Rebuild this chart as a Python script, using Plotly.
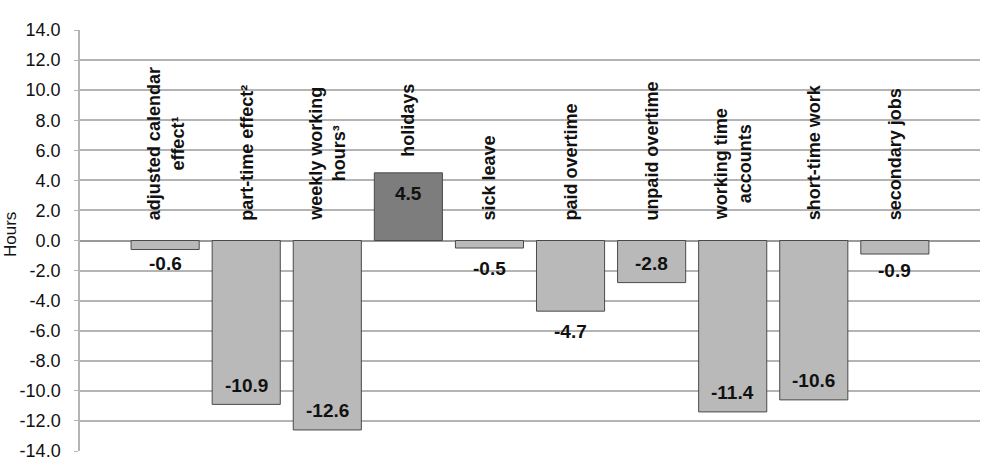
import plotly.graph_objects as go

categories = ["adjusted calendar<br>effect¹", "part-time effect²", "weekly working<br>hours³", "holidays",
              "sick leave", "paid overtime", "unpaid overtime", "working time<br>accounts",
              "short-time work", "secondary jobs"]
values = [-0.6, -10.9, -12.6, 4.5, -0.5, -4.7, -2.8, -11.4, -10.6, -0.9]
value_labels = ["-0.6", "-10.9", "-12.6", "4.5", "-0.5", "-4.7", "-2.8", "-11.4", "-10.6", "-0.9"]
tick_vals = [-14, -12, -10, -8, -6, -4, -2, 0, 2, 4, 6, 8, 10, 12, 14]
tick_text = ["%.1f" % t for t in tick_vals]

# label offsets in pixels from the bar end (style only)
label_shift = [-14, 19, 19, -21, -20, -20, 19, 19, 19, -16]

x = list(range(len(categories)))
colors = ["#7d7d7d" if v > 0 else "#b9b9b9" for v in values]

fig = go.Figure()
fig.add_trace(go.Bar(
    x=x, y=values, width=0.84,
    marker=dict(color=colors, line=dict(color="#4a4a4a", width=1)),
    hoverinfo="x+y",
))

for xi, t, v, s in zip(x, value_labels, values, label_shift):
    fig.add_annotation(x=xi, y=v, text="<b>" + t + "</b>", showarrow=False,
                       xanchor="center", yanchor="middle", yshift=s,
                       font=dict(family="Liberation Sans", size=19, color="#111111"))

for xi, c, v in zip(x, categories, values):
    fig.add_annotation(x=xi, y=max(0, v), text="<b>" + c + "</b>", textangle=-90,
                       showarrow=False, xanchor="center", yanchor="bottom",
                       yshift=(14 if v > 0 else 18),
                       font=dict(family="Liberation Sans", size=18, color="#111111"))

fig.add_annotation(xref="paper", yref="paper", x=(11 - 80) / 900, y=(451 - 235) / 421,
                   text="Hours", textangle=-90, showarrow=False,
                   xanchor="center", yanchor="middle",
                   font=dict(family="Liberation Sans", size=17, color="#111111"))

fig.update_layout(
    width=991, height=476, margin=dict(l=80, r=11, t=30, b=25),
    paper_bgcolor="white", plot_bgcolor="white", showlegend=False,
    font=dict(family="Liberation Sans", color="#111111"),
)
fig.update_xaxes(range=[-1.05, 10.05], showticklabels=False, showgrid=False, zeroline=False,
                 showline=False, fixedrange=True)
fig.update_yaxes(range=[-14, 14], tickvals=tick_vals, ticktext=tick_text,
                 showgrid=True, gridcolor="#b4b4b4", gridwidth=1.5,
                 zeroline=True, zerolinecolor="#9a9a9a", zerolinewidth=1.5,
                 showline=True, linecolor="#b4b4b4", linewidth=1.5,
                 ticks="outside", ticklen=4, tickcolor="#b4b4b4",
                 ticklabelstandoff=10,
                 tickfont=dict(family="Liberation Sans", size=18, color="#111111"))
fig.write_html("out.html")
